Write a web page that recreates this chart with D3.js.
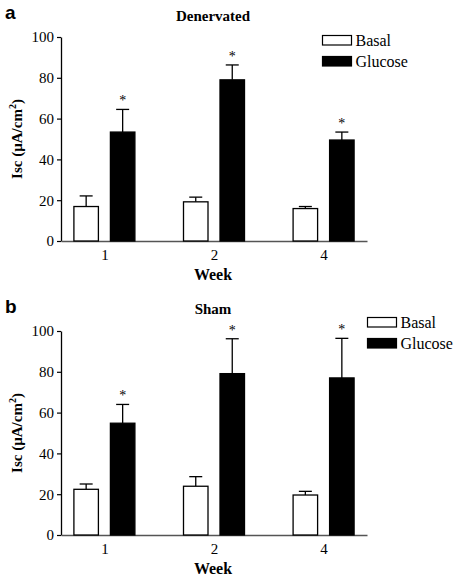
<!DOCTYPE html>
<html><head><meta charset="utf-8">
<script src="https://cdn.jsdelivr.net/npm/d3@7/dist/d3.min.js"></script>
<style>body{margin:0;background:#fff} text{-webkit-font-smoothing:grayscale}</style>
</head><body>
<svg id="c" width="456" height="576"></svg>
<script>
const weeks = ["1", "2", "4"];
const yTicks = [0, 20, 40, 60, 80, 100];
const seriesNames = ["Basal", "Glucose"];
const denervBasal = [16.9, 19.2, 15.9];
const denervBasalErr = [5.2, 2.3, 1.0];
const denervGlucose = [53.4, 79.0, 49.5];
const denervGlucoseErr = [11.1, 7.3, 3.9];
const shamBasal = [22.4, 23.9, 19.6];
const shamBasalErr = [2.6, 4.7, 1.8];
const shamGlucose = [54.8, 79.1, 77.0];
const shamGlucoseErr = [9.2, 17.1, 19.4];
const denervSig = [true, true, true];
const shamSig = [true, true, true];

const svg = d3.select("#c");
const serif = "'Liberation Serif', 'Times New Roman', serif";

function panel(opt) {
  const g = svg.append("g").attr("transform", `translate(0,${opt.top})`);
  const y = d3.scaleLinear().domain([0, 100]).range([204, 0]);
  const x = d3.scalePoint().domain(weeks).range([61, 367]).padding(0.396);
  const bw = 24.5, gap = 12;
  // letter
  g.append("text").attr("x", 5).attr("y", 19)
    .attr("font-family", "'Liberation Sans', Arial, sans-serif").attr("font-weight", "bold")
    .attr("font-size", 19).text(opt.letter);
  // title
  g.append("text").attr("x", 213).attr("y", opt.titleY).attr("text-anchor", "middle")
    .attr("font-family", serif).attr("font-weight", "bold").attr("font-size", 15).text(opt.title);
  const plot = g.append("g").attr("transform", `translate(0,${opt.plotTop})`);
  // y axis
  const ya = plot.append("g").attr("transform", "translate(61,0)")
    .call(d3.axisLeft(y).tickValues(yTicks).tickSize(4).tickSizeOuter(0).tickPadding(3));
  ya.select(".domain").attr("stroke", "#000").attr("stroke-width", 1.3);
  ya.selectAll(".tick line").attr("stroke", "#000").attr("stroke-width", 1.2);
  ya.selectAll(".tick text").attr("font-family", serif).attr("font-size", 15).attr("fill", "#000");
  // x axis
  const xa = plot.append("g").attr("transform", "translate(0,204)")
    .call(d3.axisBottom(x).tickSize(0).tickPadding(8));
  xa.select(".domain").attr("stroke", "#555").attr("stroke-width", 1.5);
  xa.selectAll(".tick text").attr("font-family", serif).attr("font-size", 15).attr("fill", "#000");
  // y label
  const yl = plot.append("text").attr("transform", `translate(22,${y(50)}) rotate(-90)`)
    .attr("text-anchor", "middle").attr("font-family", serif).attr("font-weight", "bold").attr("font-size", 15);
  yl.append("tspan").text("Isc (\u00B5A/cm");
  yl.append("tspan").attr("dy", -6).attr("font-size", 10).text("2");
  yl.append("tspan").attr("dy", 6).text(")");
  // x label
  plot.append("text").attr("x", 213).attr("y", opt.weekY).attr("text-anchor", "middle")
    .attr("font-family", serif).attr("font-weight", "bold").attr("font-size", 16).text("Week");
  // bars
  const series = [
    {vals: opt.basal, err: opt.basalErr, fill: "#fff", off: -gap / 2 - bw},
    {vals: opt.glucose, err: opt.glucoseErr, fill: "#000", off: gap / 2}
  ];
  series.forEach(s => {
    const data = weeks.map((w, i) => ({w, v: s.vals[i], e: s.err[i]}));
    plot.selectAll(null).data(data).enter().append("line")
      .attr("x1", d => x(d.w) + s.off + bw / 2).attr("x2", d => x(d.w) + s.off + bw / 2)
      .attr("y1", d => y(d.v)).attr("y2", d => y(d.v + d.e)).attr("stroke", "#000").attr("stroke-width", 1.3);
    plot.selectAll(null).data(data).enter().append("line")
      .attr("x1", d => x(d.w) + s.off + bw / 2 - 6.5).attr("x2", d => x(d.w) + s.off + bw / 2 + 6.5)
      .attr("y1", d => y(d.v + d.e)).attr("y2", d => y(d.v + d.e)).attr("stroke", "#000").attr("stroke-width", 1.3);
    plot.selectAll(null).data(data).enter().append("rect")
      .attr("x", d => x(d.w) + s.off).attr("width", bw)
      .attr("y", d => y(d.v)).attr("height", d => y(0) - y(d.v))
      .attr("fill", s.fill).attr("stroke", "#000").attr("stroke-width", 1.3);
  });
  // asterisks
  const gs = series[1];
  weeks.forEach((w, i) => {
    if (!opt.sig[i]) return;
    plot.append("text").attr("x", x(w) + gs.off + bw / 2).attr("y", y(gs.vals[i] + gs.err[i]) - 4)
      .attr("text-anchor", "middle").attr("font-family", serif).attr("font-size", 14)
      .attr("fill", "#000").text("*");
  });
  // legend
  const lg = g.append("g").attr("transform", `translate(${opt.legX},${opt.legY})`);
  seriesNames.forEach((n, i) => {
    lg.append("rect").attr("x", 0).attr("y", i * 21).attr("width", 29).attr("height", 9.5)
      .attr("fill", i ? "#000" : "#fff").attr("stroke", "#000").attr("stroke-width", 1.2);
    lg.append("text").attr("x", 33).attr("y", i * 21 + 10).attr("font-family", serif)
      .attr("font-size", 16).text(n);
  });
}

panel({top: 0, letter: "a", title: "Denervated", titleY: 21, plotTop: 37,
  weekY: 243, basal: denervBasal, basalErr: denervBasalErr, glucose: denervGlucose,
  glucoseErr: denervGlucoseErr, sig: denervSig, legX: 322.5, legY: 35.5});
panel({top: 294, letter: "b", title: "Sham", titleY: 20, plotTop: 37,
  weekY: 243, basal: shamBasal, basalErr: shamBasalErr, glucose: shamGlucose,
  glucoseErr: shamGlucoseErr, sig: shamSig, legX: 367.5, legY: 23.5});
</script>
</body></html>
